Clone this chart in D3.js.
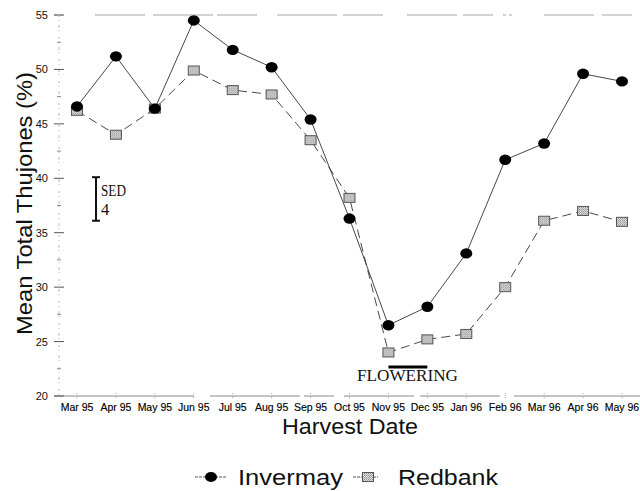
<!DOCTYPE html>
<html>
<head>
<meta charset="utf-8">
<script src="https://cdn.jsdelivr.net/npm/d3@7"></script>
<style>
  html, body { margin: 0; padding: 0; background: #fff; }
  svg { display: block; }
</style>
</head>
<body>
<svg id="chart" width="640" height="491"></svg>
<script>
// Harvest months and mean total thujone content (%) for two clones
const harvestDates = ["Mar 95", "Apr 95", "May 95", "Jun 95", "Jul 95", "Aug 95", "Sep 95", "Oct 95",
                      "Nov 95", "Dec 95", "Jan 96", "Feb 96", "Mar 96", "Apr 96", "May 96"];
const invermay = [46.6, 51.2, 46.4, 54.5, 51.8, 50.2, 45.4, 36.3, 26.5, 28.2, 33.1, 41.7, 43.2, 49.6, 48.9];
const redbank  = [46.2, 44.0, 46.4, 49.9, 48.1, 47.7, 43.5, 38.2, 24.0, 25.2, 25.7, 30.0, 36.1, 37.0, 36.0];
const yTicks = [20, 25, 30, 35, 40, 45, 50, 55];
const yMinorTicks = [22.5, 27.5, 32.5, 37.5, 42.5, 47.5, 52.5];
const sedValue = 4;          // standard error of difference
const sedTop = 40.1;
const floweringSpan = ["Nov 95", "Dec 95"];

const svg = d3.select("#chart");

const x = d3.scalePoint().domain(harvestDates).range([77, 622]);
const y = d3.scaleLinear().domain([20, 55]).range([396, 15]);

// hatched grey fill for the Redbank squares
const defs = svg.append("defs");
const pat = defs.append("pattern").attr("id", "hatch")
  .attr("patternUnits", "userSpaceOnUse").attr("width", 2).attr("height", 2);
pat.append("rect").attr("width", 2).attr("height", 2).attr("fill", "#e4e4e4");
pat.append("rect").attr("width", 1).attr("height", 1).attr("fill", "#8a8a8a");
pat.append("rect").attr("x", 1).attr("y", 1).attr("width", 1).attr("height", 1).attr("fill", "#a8a8a8");

const axisX = 59;

// frame lines: top, left and bottom
svg.append("line")
  .attr("x1", 54).attr("x2", 632).attr("y1", y(55)).attr("y2", y(55))
  .attr("stroke", "#a8a8a8").attr("stroke-width", 1)
  .attr("stroke-dasharray", "3 3 3 32 50 8 60 4 40 20 60 6 40 24 50 6 30 10");
svg.append("line")
  .attr("x1", axisX).attr("x2", axisX).attr("y1", y(55)).attr("y2", y(20))
  .attr("stroke", "#b8b8b8").attr("stroke-width", 1)
  .attr("stroke-dasharray", "2 3 1 4 3 2 1 6");
svg.append("line")
  .attr("x1", 54).attr("x2", 640).attr("y1", y(20)).attr("y2", y(20))
  .attr("stroke", "#8a8a8a").attr("stroke-width", 1)
  .attr("stroke-dasharray", "140 16 90 4 30 10 70 6 80 14 140 8");

// y axis ticks and labels
const yAxis = svg.append("g").attr("class", "y-axis");
yAxis.selectAll("line.major").data(yTicks).join("line")
  .attr("class", "major")
  .attr("x1", 54).attr("x2", 64)
  .attr("y1", d => y(d)).attr("y2", d => y(d))
  .attr("stroke", "#555").attr("stroke-width", 1);
yAxis.selectAll("line.minor").data(yMinorTicks).join("line")
  .attr("class", "minor")
  .attr("x1", 57).attr("x2", 61)
  .attr("y1", d => y(d)).attr("y2", d => y(d))
  .attr("stroke", "#888").attr("stroke-width", 1);
yAxis.selectAll("text").data(yTicks).join("text")
  .attr("x", 48).attr("y", d => y(d) + 4)
  .attr("text-anchor", "end")
  .attr("font-family", "Liberation Sans, Arial, sans-serif")
  .attr("font-size", 11)
  .attr("fill", "#111")
  .text(d => d);

// x axis ticks and labels
const xAxis = svg.append("g").attr("class", "x-axis");
xAxis.selectAll("line").data(harvestDates).join("line")
  .attr("x1", d => x(d)).attr("x2", d => x(d))
  .attr("y1", y(20) - 3).attr("y2", y(20) + 3)
  .attr("stroke", "#aaa").attr("stroke-width", 1)
  .attr("stroke-dasharray", "1 1");
xAxis.selectAll("text").data(harvestDates).join("text")
  .attr("x", d => x(d)).attr("y", 411)
  .attr("text-anchor", "middle")
  .attr("font-family", "Liberation Sans, Arial, sans-serif")
  .attr("font-size", 10.5)
  .attr("fill", "#000")
  .attr("stroke", "#000").attr("stroke-width", 0.15)
  .text(d => d);

// axis titles
svg.append("text")
  .attr("x", 282).attr("y", 434)
  .attr("font-family", "Liberation Sans, Arial, sans-serif")
  .attr("font-size", 22).attr("fill", "#111")
  .attr("textLength", 136).attr("lengthAdjust", "spacingAndGlyphs")
  .text("Harvest Date");
svg.append("text")
  .attr("transform", "translate(32,335) rotate(-90)")
  .attr("font-family", "Liberation Sans, Arial, sans-serif")
  .attr("font-size", 22).attr("fill", "#111")
  .attr("textLength", 263).attr("lengthAdjust", "spacingAndGlyphs")
  .text("Mean Total Thujones (%)");

// series lines
const line = d3.line().x((d, i) => x(harvestDates[i])).y(d => y(d));
svg.append("path").datum(redbank)
  .attr("d", line).attr("fill", "none")
  .attr("stroke", "#333").attr("stroke-width", 0.9)
  .attr("stroke-dasharray", "9 5");
svg.append("path").datum(invermay)
  .attr("d", line).attr("fill", "none")
  .attr("stroke", "#333").attr("stroke-width", 0.9);

// Redbank markers: hatched squares
function square(g) {
  g.append("rect")
    .attr("x", -5.5).attr("y", -4.5).attr("width", 11).attr("height", 9)
    .attr("fill", "url(#hatch)").attr("stroke", "#555").attr("stroke-width", 1);
}
svg.append("g").selectAll("g").data(redbank).join("g")
  .attr("transform", (d, i) => `translate(${x(harvestDates[i])},${y(d)})`)
  .each(function () { square(d3.select(this)); });

// Invermay markers: filled dots
svg.append("g").selectAll("ellipse").data(invermay).join("ellipse")
  .attr("cx", (d, i) => x(harvestDates[i])).attr("cy", d => y(d))
  .attr("rx", 6).attr("ry", 5.2)
  .attr("fill", "#000");

// SED error bar
const sedX = 96;
const sed = svg.append("g").attr("stroke", "#111").attr("stroke-width", 2);
sed.append("line").attr("x1", sedX).attr("x2", sedX).attr("y1", y(sedTop)).attr("y2", y(sedTop - sedValue));
sed.append("line").attr("x1", sedX - 4).attr("x2", sedX + 4).attr("y1", y(sedTop)).attr("y2", y(sedTop));
sed.append("line").attr("x1", sedX - 4).attr("x2", sedX + 4).attr("y1", y(sedTop - sedValue)).attr("y2", y(sedTop - sedValue));
svg.append("text").attr("x", 101).attr("y", 196)
  .attr("font-family", "Liberation Serif, Times New Roman, serif")
  .attr("font-size", 16.5).attr("fill", "#111")
  .attr("textLength", 25).attr("lengthAdjust", "spacingAndGlyphs")
  .text("SED");
svg.append("text").attr("x", 101).attr("y", 215)
  .attr("font-family", "Liberation Serif, Times New Roman, serif")
  .attr("font-size", 16.5).attr("fill", "#111")
  .text(sedValue);

// flowering period marker
svg.append("line")
  .attr("x1", x(floweringSpan[0])).attr("x2", x(floweringSpan[1]))
  .attr("y1", 367).attr("y2", 367)
  .attr("stroke", "#000").attr("stroke-width", 3);
svg.append("text").attr("x", 357).attr("y", 381)
  .attr("font-family", "Liberation Serif, Times New Roman, serif")
  .attr("font-size", 16).attr("fill", "#111")
  .attr("textLength", 101).attr("lengthAdjust", "spacingAndGlyphs")
  .text("FLOWERING");

// legend
const legend = svg.append("g");
legend.append("line").attr("x1", 195).attr("x2", 227).attr("y1", 477).attr("y2", 477)
  .attr("stroke", "#555").attr("stroke-width", 1).attr("stroke-dasharray", "3 1");
legend.append("ellipse").attr("cx", 211).attr("cy", 477).attr("rx", 6).attr("ry", 5).attr("fill", "#000");
legend.append("text").attr("x", 238).attr("y", 485)
  .attr("font-family", "Liberation Sans, Arial, sans-serif")
  .attr("font-size", 22).attr("fill", "#111")
  .attr("textLength", 105).attr("lengthAdjust", "spacingAndGlyphs")
  .text("Invermay");
legend.append("line").attr("x1", 353).attr("x2", 378).attr("y1", 477).attr("y2", 477)
  .attr("stroke", "#555").attr("stroke-width", 1).attr("stroke-dasharray", "3 1");
const legSq = legend.append("g").attr("transform", "translate(368,477)");
square(legSq);
legend.append("text").attr("x", 398).attr("y", 485)
  .attr("font-family", "Liberation Sans, Arial, sans-serif")
  .attr("font-size", 22).attr("fill", "#111")
  .attr("textLength", 100).attr("lengthAdjust", "spacingAndGlyphs")
  .text("Redbank");
</script>
</body>
</html>
